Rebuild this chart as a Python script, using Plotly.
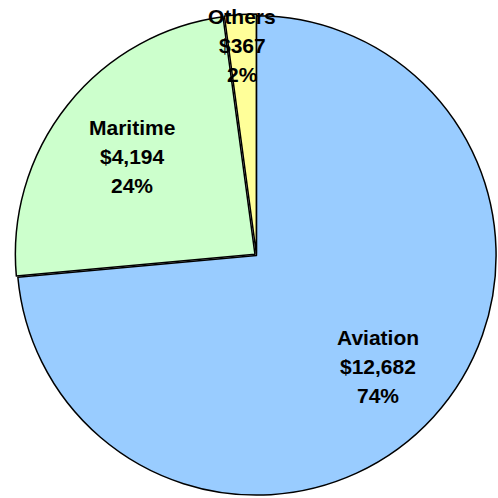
import math
import plotly.graph_objects as go

# Segment revenue (US$ thousands)
segments = ["Aviation", "Maritime", "Others"]
revenue = [12682, 4194, 367]
colors = ["#99CCFF", "#CCFFCC", "#FFFF99"]
pulls = [0.0, 0.008, 0.008]

W = H = 498
dom_x = [0.03, 1.0]
dom_y = [0.0, 0.974]

fig = go.Figure(go.Pie(
    labels=segments,
    values=revenue,
    sort=False,
    direction="clockwise",
    rotation=0,
    pull=pulls,
    marker=dict(colors=colors, line=dict(color="#000000", width=1.5)),
    textinfo="none",
    hoverinfo="label+value+percent",
    showlegend=False,
    domain=dict(x=dom_x, y=dom_y),
))

# Pie geometry in pixels (plotly shrinks the radius to leave room for pulled slices)
box_w = (dom_x[1] - dom_x[0]) * W
box_h = (dom_y[1] - dom_y[0]) * H
radius = min(box_w, box_h) / (2 + 2 * max(pulls))
cx = (dom_x[0] + dom_x[1]) / 2 * W
cy = (dom_y[0] + dom_y[1]) / 2 * H  # from bottom

# Radial placement of each label block, as a fraction of the radius
label_frac = [0.685, 0.655, 0.87]
line_gap = 29
font = dict(family="Liberation Sans, Arial, sans-serif", size=21, color="#000000")

total = sum(revenue)
start = 0.0
for name, val, frac, pull in zip(segments, revenue, label_frac, pulls):
    share = val / total
    mid = (start + share / 2) * 2 * math.pi  # clockwise from 12 o'clock
    start += share
    dist = radius * (frac + pull)
    px = cx + dist * math.sin(mid)
    py = cy + dist * math.cos(mid)
    lines = [f"<b>{name}</b>", f"<b>${val:,}</b>", f"<b>{round(share * 100)}%</b>"]
    for i, txt in enumerate(lines):
        fig.add_annotation(
            x=px / W, y=(py - (i - 1) * line_gap) / H,
            xref="paper", yref="paper",
            text=txt, showarrow=False,
            xanchor="center", yanchor="middle",
            font=font,
        )

fig.update_layout(
    width=W, height=H,
    margin=dict(l=0, r=0, t=0, b=0),
    paper_bgcolor="#FFFFFF",
    plot_bgcolor="#FFFFFF",
)

fig.write_html("out.html")
